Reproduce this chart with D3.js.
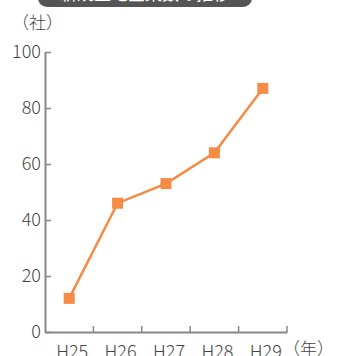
<!DOCTYPE html>
<html><head><meta charset="utf-8">
<script src="https://cdn.jsdelivr.net/npm/d3@7"></script>
<style>body{margin:0;background:#fff}svg{display:block}</style>
</head><body>
<script>
const categories = ["H25","H26","H27","H28","H29"];
const values = [12, 46, 53, 64, 87];
const yTicks = [0,20,40,60,80,100];
const title = "新規立地企業数の推移";
const yUnit = "（社）";
const xUnit = "（年）";

(function(){
const W = 338, H = 356;
const svg = d3.select("body").append("svg").attr("width", W).attr("height", H);
const font = "'Noto Sans CJK JP','Noto Sans',sans-serif";
const mLeft = 45, mRight = 287, mTop = 52, mBottom = 332;

// banner
svg.append("rect").attr("x",38).attr("y",-22).attr("width",214).attr("height",29).attr("rx",9).attr("fill","#555");
svg.append("text").attr("x",145).attr("y",0).attr("text-anchor","middle").attr("fill","#fff")
  .attr("font-family",font).attr("font-size",17).text(title);

const x = d3.scaleBand().domain(categories).range([mLeft,mRight]).padding(0);
const y = d3.scaleLinear().domain([0,100]).range([mBottom,mTop]);

const axisColor = "#888";
const ya = svg.append("g").attr("transform",`translate(${mLeft},0)`)
  .call(d3.axisLeft(y).tickValues(yTicks).tickSizeInner(-6).tickSizeOuter(0).tickPadding(4));
ya.select(".domain").attr("stroke",axisColor).attr("stroke-width",2);
ya.selectAll(".tick line").attr("stroke",axisColor).attr("stroke-width",1.5);
ya.selectAll(".tick text").attr("font-family",font).attr("font-size",18).attr("font-weight",300).attr("fill","#444");

const xa = svg.append("g").attr("transform",`translate(0,${mBottom})`)
  .call(d3.axisBottom(x).tickSize(0).tickPadding(10));
xa.select(".domain").attr("stroke",axisColor).attr("stroke-width",2);
xa.selectAll(".tick text").attr("font-family",font).attr("font-size",18).attr("font-weight",300).attr("fill","#444").attr("dy","0.9em").attr("dx",3);
svg.append("g").selectAll("line").data(categories).join("line")
  .attr("x1",d=>x(d)+x.bandwidth()).attr("x2",d=>x(d)+x.bandwidth())
  .attr("y1",mBottom).attr("y2",mBottom-6).attr("stroke",axisColor).attr("stroke-width",1.5);

svg.append("text").attr("x",12).attr("y",29).attr("font-family",font).attr("font-size",17).attr("font-weight",300).attr("fill","#444").text(yUnit);
svg.append("text").attr("x",283).attr("y",355).attr("font-family",font).attr("font-size",17).attr("font-weight",300).attr("fill","#444").text(xUnit);

const cx = d => x(d) + x.bandwidth()/2;
const orange = "#F68B45";
svg.append("path").datum(values)
  .attr("d", d3.line().x((d,i)=>cx(categories[i])).y(d=>y(d)))
  .attr("fill","none").attr("stroke",orange).attr("stroke-width",2.5);
svg.append("g").selectAll("rect").data(values).join("rect")
  .attr("x",(d,i)=>cx(categories[i])-5.5).attr("y",d=>y(d)-5.5)
  .attr("width",11).attr("height",11).attr("fill",orange);
})();
</script>
</body></html>
